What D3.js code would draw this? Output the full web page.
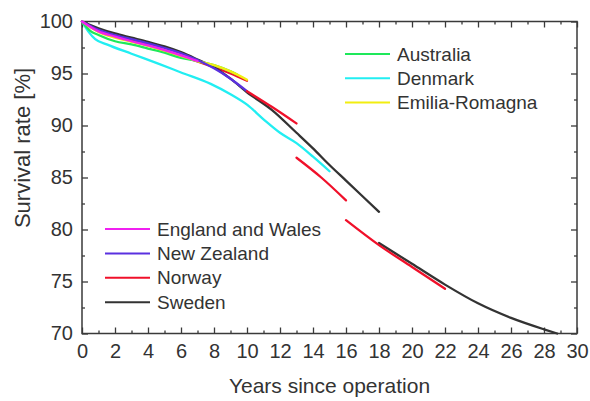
<!DOCTYPE html>
<html>
<head>
<meta charset="utf-8">
<script src="https://cdn.jsdelivr.net/npm/d3@7"></script>
<style>
  html, body { margin: 0; padding: 0; background: #fff; }
  svg { display: block; font-family: "Liberation Sans", Arial, sans-serif; }
</style>
</head>
<body>
<svg id="chart" width="590" height="401"></svg>
<script>
// Registry survival curves (years since operation vs survival rate in %)
const australiaYears = [0, 0.5, 1, 2, 3, 4, 5, 6, 7, 8, 9, 9.4];
const australiaRate  = [100, 99.1, 98.7, 98.1, 97.8, 97.4, 97.0, 96.5, 96.2, 95.8, 95.2, 94.9];

const denmarkYears = [0, 0.4, 0.8, 1.5, 3, 4.7, 6, 7.8, 9, 10, 11, 12, 13, 14, 15];
const denmarkRate  = [100, 99.0, 98.3, 97.8, 96.9, 95.9, 95.1, 94.0, 93.0, 92.0, 90.6, 89.3, 88.3, 87.0, 85.6];

const emiliaYears = [0, 1, 2, 3, 4, 5, 6, 7, 8, 9, 10];
const emiliaRate  = [100, 99.0, 98.45, 98.05, 97.65, 97.2, 96.7, 96.2, 95.8, 95.2, 94.4];

const englandYears = [0, 1, 2, 3, 4, 5, 6, 7];
const englandRate  = [100, 99.05, 98.55, 98.1, 97.7, 97.25, 96.75, 96.2];

const newZealandYears = [0, 1, 2, 3, 4, 5, 6, 7, 8, 9, 10];
const newZealandRate  = [100, 99.2, 98.7, 98.3, 97.9, 97.45, 96.95, 96.3, 95.5, 94.5, 93.3];

// Norway is reported in separate follow-up periods
const norwayYears = [
  [0, 1, 2, 4, 6, 8, 9, 10],
  [10, 11.5, 13],
  [13, 14.5, 16],
  [16, 18, 20, 22]
];
const norwayRate = [
  [100, 99.1, 98.6, 97.7, 96.7, 95.6, 95.0, 94.3],
  [93.3, 91.8, 90.2],
  [86.9, 85.0, 82.8],
  [80.9, 78.5, 76.4, 74.3]
];

const swedenYears = [
  [0, 1, 2, 3, 4, 5, 6, 7, 8, 9, 10, 11.5, 13, 14, 15, 16, 17, 18],
  [18, 20, 22, 24, 26, 28, 28.8]
];
const swedenRate = [
  [100, 99.35, 98.85, 98.45, 98.05, 97.6, 97.05, 96.35, 95.6, 94.5, 93.2, 91.5, 89.3, 87.8, 86.2, 84.7, 83.2, 81.7],
  [78.7, 76.7, 74.7, 72.9, 71.5, 70.4, 70.0]
];

const xTickValues = [0, 2, 4, 6, 8, 10, 12, 14, 16, 18, 20, 22, 24, 26, 28, 30];
const yTickValues = [70, 75, 80, 85, 90, 95, 100];

const legendTop    = ["Australia", "Denmark", "Emilia-Romagna"];
const legendBottom = ["England and Wales", "New Zealand", "Norway", "Sweden"];

const colors = {
  "Australia": "#1ee85a",
  "Denmark": "#22eef2",
  "Emilia-Romagna": "#f2ee10",
  "England and Wales": "#f020f0",
  "New Zealand": "#5a30e0",
  "Norway": "#f0102a",
  "Sweden": "#333333"
};

const zip = (xs, ys) => xs.map((x, i) => [x, ys[i]]);

// Segments in drawing order (bottom to top)
const segments = [
  { name: "Norway", pts: zip(norwayYears[0], norwayRate[0]) },
  { name: "Sweden", pts: zip(swedenYears[0], swedenRate[0]) },
  { name: "Sweden", pts: zip(swedenYears[1], swedenRate[1]) },
  { name: "Denmark", pts: zip(denmarkYears, denmarkRate) },
  { name: "Australia", pts: zip(australiaYears, australiaRate) },
  { name: "Emilia-Romagna", pts: zip(emiliaYears, emiliaRate) },
  { name: "New Zealand", pts: zip(newZealandYears, newZealandRate) },
  { name: "England and Wales", pts: zip(englandYears, englandRate) },
  { name: "Norway", pts: zip(norwayYears[1], norwayRate[1]) },
  { name: "Norway", pts: zip(norwayYears[2], norwayRate[2]) },
  { name: "Norway", pts: zip(norwayYears[3], norwayRate[3]) }
];

const svg = d3.select("#chart");
const L = 82, R = 577, T = 21.5, B = 333.5;

const x = d3.scaleLinear().domain([0, 30]).range([L, R]);
const y = d3.scaleLinear().domain([70, 100]).range([B, T]);

const axisColor = "#3a3a3a";
const textColor = "#333333";

// Minor ticks (every odd year / every 2.5 %)
const xMinor = d3.range(1, 30, 2);
const yMinor = [72.5, 77.5, 82.5, 87.5, 92.5, 97.5];

function styleAxis(g) {
  g.select(".domain").remove();
  g.selectAll("line").attr("stroke", axisColor).attr("stroke-width", 1.3);
  g.selectAll("text").attr("fill", textColor).attr("font-size", 20)
    .attr("font-family", "'Liberation Sans', Arial, sans-serif");
}

// bottom
svg.append("g").attr("transform", `translate(0,${B})`)
  .call(d3.axisBottom(x).tickValues(xTickValues).tickFormat(d3.format("d")).tickSize(-6).tickPadding(10))
  .call(styleAxis);
svg.append("g").attr("transform", `translate(0,${B})`)
  .call(d3.axisBottom(x).tickValues(xMinor).tickFormat("").tickSize(-3))
  .call(styleAxis);
// top
svg.append("g").attr("transform", `translate(0,${T})`)
  .call(d3.axisTop(x).tickValues(xTickValues).tickFormat("").tickSize(-6))
  .call(styleAxis);
svg.append("g").attr("transform", `translate(0,${T})`)
  .call(d3.axisTop(x).tickValues(xMinor).tickFormat("").tickSize(-3))
  .call(styleAxis);
// left
svg.append("g").attr("transform", `translate(${L},0)`)
  .call(d3.axisLeft(y).tickValues(yTickValues).tickFormat(d3.format("d")).tickSize(-6).tickPadding(9))
  .call(styleAxis);
svg.append("g").attr("transform", `translate(${L},0)`)
  .call(d3.axisLeft(y).tickValues(yMinor).tickFormat("").tickSize(-3))
  .call(styleAxis);
// right
svg.append("g").attr("transform", `translate(${R},0)`)
  .call(d3.axisRight(y).tickValues(yTickValues).tickFormat("").tickSize(-6))
  .call(styleAxis);
svg.append("g").attr("transform", `translate(${R},0)`)
  .call(d3.axisRight(y).tickValues(yMinor).tickFormat("").tickSize(-3))
  .call(styleAxis);

// frame
svg.append("rect")
  .attr("x", L).attr("y", T).attr("width", R - L).attr("height", B - T)
  .attr("fill", "none").attr("stroke", axisColor).attr("stroke-width", 1.5);

// curves
const line = d3.line().x(d => x(d[0])).y(d => y(d[1])).curve(d3.curveMonotoneX);
svg.append("g").selectAll("path").data(segments).join("path")
  .attr("d", d => line(d.pts))
  .attr("fill", "none")
  .attr("stroke", d => colors[d.name])
  .attr("stroke-width", 2.3)
  .attr("stroke-linecap", "round");

// legends
function legend(names, lx, ly0, step) {
  const g = svg.append("g");
  names.forEach((n, i) => {
    const yy = ly0 + i * step;
    g.append("line").attr("x1", lx).attr("x2", lx + 45).attr("y1", yy).attr("y2", yy)
      .attr("stroke", colors[n]).attr("stroke-width", 2);
    g.append("text").attr("x", lx + 52).attr("y", yy).attr("dy", "0.35em")
      .attr("font-size", 19).attr("fill", textColor).text(n);
  });
}
legend(legendTop, 345, 54, 24.3);
legend(legendBottom, 105, 229, 24.4);

// axis titles
svg.append("text").attr("x", (L + R) / 2).attr("y", 393)
  .attr("text-anchor", "middle").attr("font-size", 21).attr("fill", textColor)
  .text("Years since operation");
svg.append("text")
  .attr("transform", `translate(30,148) rotate(-90)`)
  .attr("text-anchor", "middle").attr("font-size", 22).attr("fill", textColor)
  .text("Survival rate [%]");
</script>
</body>
</html>
